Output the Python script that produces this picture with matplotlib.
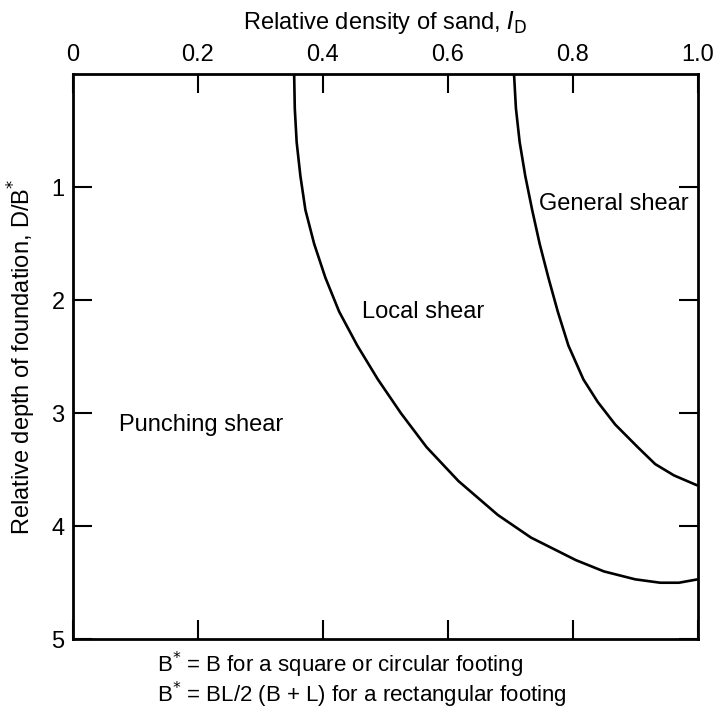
import matplotlib.pyplot as plt

plt.rcParams['font.family'] = ['Liberation Sans', 'DejaVu Sans']

# boundary between punching and local shear
local_x = [0.354, 0.355, 0.358, 0.364, 0.372, 0.386, 0.404, 0.426, 0.455, 0.488,
           0.525, 0.566, 0.617, 0.680, 0.733, 0.805, 0.850, 0.900, 0.940, 0.970, 1.0]
local_y = [0.0, 0.3, 0.6, 0.9, 1.2, 1.5, 1.8, 2.1, 2.4, 2.7,
           3.0, 3.3, 3.6, 3.9, 4.1, 4.3, 4.4, 4.47, 4.50, 4.50, 4.47]

# boundary between local and general shear
general_x = [0.706, 0.709, 0.715, 0.724, 0.735, 0.747, 0.761, 0.776, 0.793,
             0.817, 0.840, 0.868, 0.904, 0.932, 0.962, 1.0]
general_y = [0.0, 0.3, 0.6, 0.9, 1.2, 1.5, 1.8, 2.1, 2.4,
             2.7, 2.9, 3.1, 3.3, 3.45, 3.55, 3.64]

x_ticks = [0, 0.2, 0.4, 0.6, 0.8, 1.0]
x_labels = ["0", "0.2", "0.4", "0.6", "0.8", "1.0"]
y_ticks = [1, 2, 3, 4, 5]

fs = 17

fig = plt.figure(figsize=(7.23, 7.15), dpi=100)
ax = fig.add_axes([0.101, 0.106, 0.864, 0.790])

ax.plot(local_x, local_y, color="black", lw=1.9, solid_capstyle="butt")
ax.plot(general_x, general_y, color="black", lw=1.9, solid_capstyle="butt")

ax.set_xlim(0, 1.0)
ax.set_ylim(5, 0)
ax.set_xticks(x_ticks)
ax.set_xticklabels(x_labels)
ax.set_yticks(y_ticks)

ax.tick_params(axis="both", direction="in", length=14, width=1.5,
               labelsize=fs, top=True, bottom=True, left=True, right=True,
               labeltop=True, labelbottom=False, labelleft=True, labelright=False,
               pad=6)
for s in ax.spines.values():
    s.set_linewidth(2.0)

ax.xaxis.set_label_position("top")
ax.set_xlabel("Relative density of sand, $\\mathit{I}_{\\mathrm{D}}$", fontsize=fs, labelpad=11)
ax.set_ylabel("Relative depth of foundation, D/B$^{*}$", fontsize=fs)
ax.yaxis.set_label_coords(-0.056, 0.5)

ax.text(0.866, 1.15, "General shear", fontsize=fs, ha="center", va="center")
ax.text(0.56, 2.1, "Local shear", fontsize=fs, ha="center", va="center")
ax.text(0.205, 3.1, "Punching shear", fontsize=fs, ha="center", va="center")

# footnotes under the chart
note = ("B$^{*}$ = B for a square or circular footing\n"
        "B$^{*}$ = BL/2 (B + L) for a rectangular footing")
fig.text(0.217, 0.049, note, fontsize=16, ha="left", va="center", linespacing=1.0)

fig.savefig("out.png", dpi=100)
